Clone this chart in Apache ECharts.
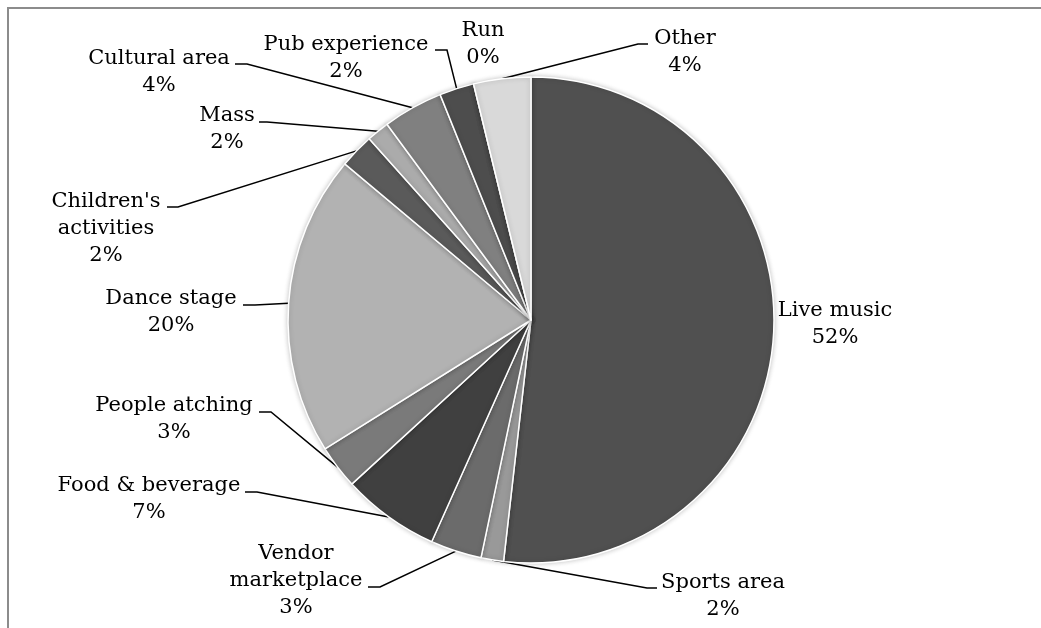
<!DOCTYPE html>
<html>
<head>
<meta charset="utf-8">
<script src="https://cdn.jsdelivr.net/npm/echarts@6/dist/echarts.min.js"></script>
<style>
  html, body { margin: 0; padding: 0; background: #ffffff; }
  #chart { width: 1041px; height: 628px; }
</style>
</head>
<body>
<div id="chart"></div>
<script>
// Share of visitors by festival attraction (percent), clockwise from 12 o'clock
const categories = [
  'Live music', 'Sports area', 'Vendor marketplace', 'Food & beverage',
  'People atching', 'Dance stage', "Children's activities", 'Mass',
  'Cultural area', 'Pub experience', 'Run', 'Other'
];
const shares = [51.8, 1.5, 3.4, 6.5, 2.9, 20.0, 2.3, 1.5, 4.0, 2.3, 0, 3.8];
const sliceColors = [
  '#505050', '#999999', '#6b6b6b', '#404040', '#7a7a7a', '#b2b2b2',
  '#5a5a5a', '#ababab', '#808080', '#4d4d4d', '#959595', '#d9d9d9'
];

// How long names wrap inside their labels
const wrappedNames = {
  'Vendor marketplace': 'Vendor\nmarketplace',
  "Children's activities": "Children's\nactivities"
};

// Label placement: text centre x, first-line baseline y, and the
// leader line's bend + end points next to the text (null = no leader)
const labelPlacement = [
  { x: 835, base: 317, leader: null },
  { x: 723, base: 589, leader: [[647, 588], [657, 588]] },
  { x: 296, base: 560, leader: [[380, 587], [368, 587]] },
  { x: 149, base: 492, leader: [[257, 492], [245, 492]] },
  { x: 174, base: 412, leader: [[271, 412], [259, 412]] },
  { x: 171, base: 305, leader: [[255, 305], [243, 305]] },
  { x: 106, base: 208, leader: [[178, 207], [167, 207]] },
  { x: 227, base: 122, leader: [[267, 122], [259, 122]] },
  { x: 159, base: 65,  leader: [[247, 64], [235, 64]] },
  { x: 346, base: 51,  leader: [[447, 50], [435, 50]] },
  { x: 483, base: 37,  leader: null },
  { x: 685, base: 45,  leader: [[638, 44], [648, 44]] }
];

const PIE_CX = 531, PIE_CY = 320, PIE_R = 243;
const FONT = '"DejaVu Serif", "Liberation Serif", serif';

// Point on the rim at the middle of slice i (fallback for the leader start)
function rimPoint(i) {
  const total = shares.reduce((a, b) => a + b, 0);
  let before = 0;
  for (let k = 0; k < i; k++) before += shares[k];
  const mid = (before + shares[i] / 2) / total * Math.PI * 2;
  return [PIE_CX + PIE_R * Math.sin(mid), PIE_CY - PIE_R * Math.cos(mid)];
}

const chart = echarts.init(document.getElementById('chart'), null, { renderer: 'canvas' });

chart.setOption({
  animation: false,
  backgroundColor: '#ffffff',
  graphic: [{
    type: 'rect',
    silent: true,
    shape: { x: 8, y: 8, width: 1200, height: 800 },
    style: { fill: 'none', stroke: '#8c8c8c', lineWidth: 2 }
  }],
  series: [{
    type: 'pie',
    center: [PIE_CX, PIE_CY],
    radius: PIE_R,
    startAngle: 90,
    clockwise: true,
    minAngle: 0,
    avoidLabelOverlap: false,
    stillShowZeroSum: true,
    itemStyle: {
      borderColor: '#ffffff',
      borderWidth: 1.5,
      shadowBlur: 5,
      shadowColor: 'rgba(0,0,0,0.22)'
    },
    label: {
      show: true,
      position: 'outside',
      fontFamily: FONT,
      fontSize: 21,
      lineHeight: 27,
      color: '#000000',
      align: 'center',
      formatter: p => (wrappedNames[p.name] || p.name) + '\n' + Math.round(p.value) + '%'
    },
    labelLine: {
      show: true,
      length: 10,
      length2: 10,
      smooth: false,
      lineStyle: { color: '#000000', width: 1.5 }
    },
    labelLayout: function (params) {
      const spot = labelPlacement[params.dataIndex];
      const out = {
        x: spot.x,
        y: spot.base - 20,
        align: 'center',
        verticalAlign: 'top'
      };
      if (spot.leader) {
        const start = (params.labelLinePoints && params.labelLinePoints[0])
          ? params.labelLinePoints[0] : rimPoint(params.dataIndex);
        out.labelLinePoints = [start, spot.leader[0], spot.leader[1]];
      }
      return out;
    },
    data: categories.map((name, i) => ({
      name: name,
      value: shares[i],
      itemStyle: { color: sliceColors[i] },
      labelLine: { show: labelPlacement[i].leader !== null }
    }))
  }]
});
</script>
</body>
</html>
